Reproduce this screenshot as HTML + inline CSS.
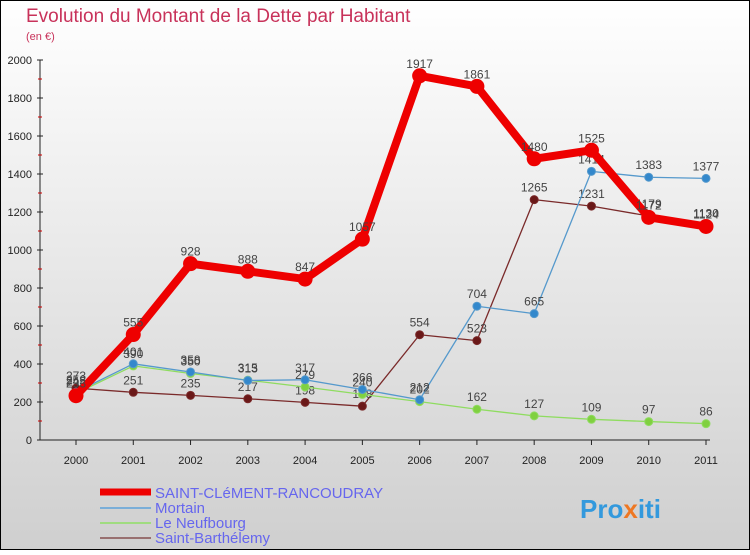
<!DOCTYPE html>
<html><head><meta charset="utf-8"><style>
body{margin:0;width:750px;height:550px;overflow:hidden;font-family:"Liberation Sans",sans-serif}
</style></head><body>
<svg id="c" width="750" height="550" xmlns="http://www.w3.org/2000/svg">
<defs><linearGradient id="bg" x1="0" y1="0" x2="0" y2="1"><stop offset="0" stop-color="#ffffff"/><stop offset="1" stop-color="#cfcfcf"/></linearGradient></defs>
<rect x="0" y="0" width="750" height="550" fill="url(#bg)" stroke="#000" stroke-width="2"/>
<text x="26" y="22" font-size="19" fill="#c8325a">Evolution du Montant de la Dette par Habitant</text>
<text x="26" y="40" font-size="11" fill="#c8325a">(en €)</text>
<g id="axes"></g><g id="series"></g>
<g>
<line x1="100" y1="492" x2="151" y2="492" stroke="#ee0000" stroke-width="7"/>
<text x="155" y="498" font-size="15" fill="#6666ee">SAINT-CLéMENT-RANCOUDRAY</text>
<line x1="100" y1="508" x2="151" y2="508" stroke="#7aaed8" stroke-width="2"/>
<text x="155" y="513" font-size="15" fill="#6666ee">Mortain</text>
<line x1="100" y1="523" x2="151" y2="523" stroke="#a0dc80" stroke-width="2"/>
<text x="155" y="528" font-size="15" fill="#6666ee">Le Neufbourg</text>
<line x1="100" y1="538" x2="151" y2="538" stroke="#987070" stroke-width="2"/>
<text x="155" y="543" font-size="15" fill="#6666ee">Saint-Barthélemy</text>
</g>
<text x="580" y="518" font-size="26" font-weight="bold" fill="#3399dd">Pro<tspan fill="#ee7722">x</tspan>iti</text>
</svg>
<script>
const years=[2000,2001,2002,2003,2004,2005,2006,2007,2008,2009,2010,2011];
const yTicks=[0,200,400,600,800,1000,1200,1400,1600,1800,2000];
const stClement=[233,555,928,888,847,1057,1917,1861,1480,1525,1172,1124];
const mortain=[252,401,358,313,317,266,212,704,665,1414,1383,1377];
const neufbourg=[245,390,350,315,279,240,202,162,127,109,97,86];
const stBarth=[273,251,235,217,198,178,554,523,1265,1231,1179,1130];
const NS='http://www.w3.org/2000/svg';
const X=i=>76+i*(630/11), Y=v=>440-v*0.19;
function mk(t,a,p){const e=document.createElementNS(NS,t);for(const k in a)e.setAttribute(k,a[k]);p.appendChild(e);return e;}
const ax=document.getElementById('axes');
const yl=mk('line',{x1:40,y1:60,x2:40,y2:440,stroke:'#222'},ax);


const xl=mk('line',{x1:40,y1:440,x2:710,y2:440,stroke:'#222'},ax);


yTicks.forEach(v=>{const t=mk('text',{x:32,y:Y(v)+4,'font-size':11,'text-anchor':'end',fill:'#222'},ax);t.textContent=v;


mk('line',{x1:37,y1:Y(v),x2:43,y2:Y(v),stroke:'#222'},ax);
if(v<2000)mk('line',{x1:38,y1:Y(v+100),x2:42,y2:Y(v+100),stroke:'#c00'},ax);});
years.forEach((y,i)=>{mk('line',{x1:X(i),y1:440,x2:X(i),y2:445,stroke:'#222'},ax);
const t=mk('text',{x:X(i),y:464,'font-size':11,'text-anchor':'middle',fill:'#222'},ax);t.textContent=y;

});
const sg=document.getElementById('series');
function series(data,col,w,r,name,dot){
const g=mk('g',{},sg);


const p=mk('polyline',{points:data.map((v,i)=>X(i)+','+Y(v)).join(' '),fill:'none',stroke:col,'stroke-width':w,'stroke-linejoin':'round'},g);


data.forEach((v,i)=>{const c=mk('circle',{cx:X(i),cy:Y(v),r:r,fill:dot,stroke:col},g);


const t=mk('text',{x:X(i),y:Y(v)-8,'font-size':12,'text-anchor':'middle',fill:'#444'},g);t.textContent=v;

});}
series(stBarth,'#7a2a2a',1.3,4,'saint-barthelemy','#6a1818');
series(neufbourg,'#8fdc60',1.3,4,'le-neufbourg','#80d040');
series(mortain,'#5599cc',1.3,4,'mortain','#3388cc');
series(stClement,'#ee0000',8,7,'saint-clement','#ee0000');
</script>
</body></html>
